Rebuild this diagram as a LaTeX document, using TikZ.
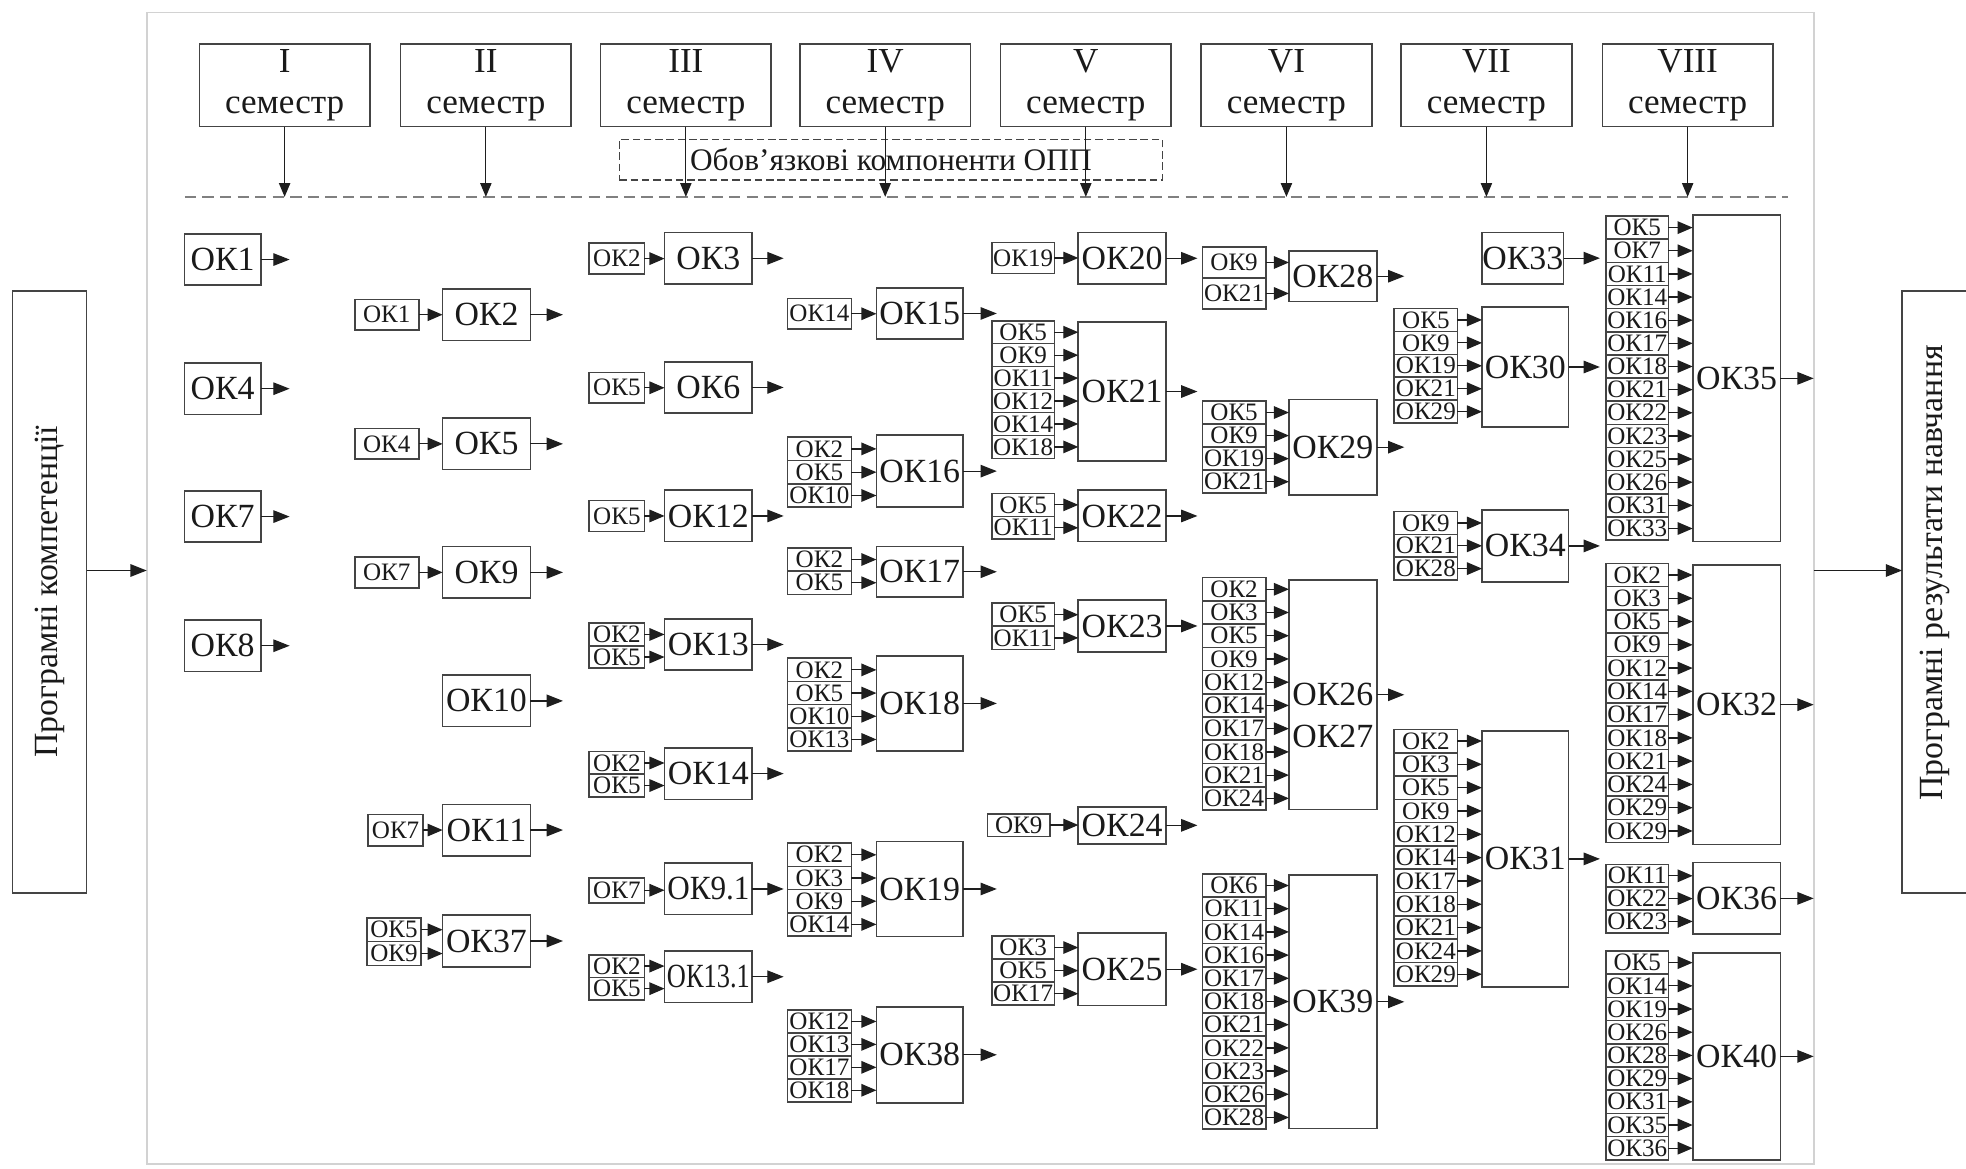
\documentclass[tikz,border=0pt]{standalone}
\usepackage{fontspec}
\usepackage{graphicx}
\setmainfont{Liberation Serif}
\usetikzlibrary{arrows.meta}
\definecolor{boxc}{HTML}{444444}
\definecolor{arrc}{HTML}{1E1E1E}
\definecolor{framec}{HTML}{D2D2D2}
\definecolor{dashc}{HTML}{808080}
\definecolor{txtc}{HTML}{1A1A1A}
\newcommand\mainfnt{\fontsize{27}{30}\selectfont}
\newcommand\smfnt{\fontsize{20}{22}\selectfont}
\newcommand\semfnt{\fontsize{28}{32}\selectfont}
\newcommand\sidefnt{\fontsize{27}{30}\selectfont}
\newcommand\oppfnt{\fontsize{25}{28}\selectfont}
% main box: name, xleft, width, ytop, height, text, end coordinate
\newcommand\okbox[7]{%
  \node[mainbox, minimum width=#3, minimum height=#5, anchor=north west] (#1) at (#2,#4) {#6};
  \draw[outarrow] (#1.east) -- (#1.east -| #7);}
% input stack: main name, xleft, width, ytop, row height, labels
\newcommand\stk[6]{%
  \foreach \lab [count=\i] in {#6} {%
    \node[inbox, minimum width=#3, minimum height=#5, anchor=north west] (#1-\i) at (#2,{#4+(\i-1)*#5}) {\lab};
    \draw[inarrow] (#1-\i.east) -- (#1-\i.east -| #1.west);
  }}
\tikzset{
  box/.style={draw=boxc, line width=1.3pt, inner sep=0pt, outer sep=0pt, text=txtc},
  mainbox/.style={box, font=\mainfnt},
  inbox/.style={box, font=\smfnt},
  lbl/.style={inner sep=0pt, text=txtc, font=\mainfnt},
  sembox/.style={box, font=\semfnt, align=center, minimum width=136, minimum height=66},
  sidebox/.style={box, font=\sidefnt},
  sidetxt/.style={inner sep=0pt, text=txtc, font=\sidefnt},
  oppbox/.style={draw=boxc, line width=1pt, dash pattern=on 6pt off 3pt, inner sep=0pt, text=txtc, font=\oppfnt},
  inarrow/.style={draw=arrc, line width=1pt, -{Triangle[length=12pt,width=10pt]}},
  outarrow/.style={draw=arrc, line width=1pt, -{Triangle[length=13pt,width=10pt]}},
  hdarrow/.style={draw=arrc, line width=1pt, -{Triangle[length=11pt,width=9pt]}},
  framestyle/.style={draw=framec, line width=1.5pt},
  dashline/.style={draw=dashc, line width=2pt, dash pattern=on 9pt off 5pt},
}
\begin{document}
\begin{tikzpicture}[x=1pt,y=-1pt]
\useasboundingbox (0,0) rectangle (1568,932);
\fill[white] (0,0) rectangle (1568,932);
% frame
\coordinate (fnw) at (117,10);
\coordinate (fse) at (1446.5,928);
\draw[framestyle] (fnw) rectangle (fse);
% side boxes
\node[sidebox, minimum width=59, minimum height=480] (lbox) at (39.5,472) {\rotatebox{90}{Програмні компетенції}};
\node[box, minimum width=70, minimum height=480, anchor=north west] (rbox) at (1517,232) {};
\node[sidetxt, rotate=90] (rtxt) at (1543,457) {Програмні результати навчання};
\coordinate (my) at (0,455);
\draw[outarrow] (lbox.east |- my) -- (fnw |- my);
\draw[outarrow] (fse |- my) -- (rbox.west |- my);
% header
\coordinate (dl) at (0,157);
\coordinate (dll) at (147.5,157);
\coordinate (dlr) at (1426,157);
\draw[dashline] (dll) -- (dlr);
\node[oppbox, minimum width=433, minimum height=32.5] (opp) at (710.5,127.25) {Обов’язкові компоненти ОПП};
\foreach \rn/\xc [count=\k] in {I/227,II/387.5,III/547,IV/706,V/866,VI/1026,VII/1185.5,VIII/1346} {
  \node[sembox] (sem\k) at (\xc,68) {\rn\\семестр};
  \draw[hdarrow] (sem\k.south) -- (sem\k.south |- dl);
}
% column I
\coordinate (eI) at (231,0);
\okbox{ok1}{147}{61}{186.5}{41}{ОК1}{eI}
\okbox{ok4}{147}{61}{289.5}{41}{ОК4}{eI}
\okbox{ok7}{147}{61}{391.5}{41}{ОК7}{eI}
\okbox{ok8}{147}{61}{494.5}{41}{ОК8}{eI}
% column II
\coordinate (eII) at (449,0);
\okbox{ok2}{353}{70}{230.5}{41}{ОК2}{eII}
\stk{ok2}{283}{51}{238.75}{24.5}{ОК1}
\okbox{ok5}{353}{70}{333.5}{41}{ОК5}{eII}
\stk{ok5}{283}{51}{341.75}{24.5}{ОК4}
\okbox{ok9}{353}{70}{436}{41}{ОК9}{eII}
\stk{ok9}{283}{51}{444.25}{24.5}{ОК7}
\okbox{ok10}{353}{70}{538.5}{41}{ОК10}{eII}
\okbox{ok11}{353}{70}{641.5}{41}{ОК11}{eII}
\stk{ok11}{293.5}{44}{649.5}{25}{ОК7}
\okbox{ok37}{353}{70}{730}{41}{ОК37}{eII}
\stk{ok37}{292.5}{43.5}{732}{19}{ОК5,ОК9}
% column III
\coordinate (eIII) at (625,0);
\okbox{ok3}{530}{70}{185.5}{41}{ОК3}{eIII}
\stk{ok3}{470}{44}{194}{24.5}{ОК2}
\okbox{ok6}{530}{70}{288.5}{41}{ОК6}{eIII}
\stk{ok6}{470}{44}{297}{24.5}{ОК5}
\okbox{ok12}{530}{70}{391}{41}{ОК12}{eIII}
\stk{ok12}{470}{44}{399.25}{24.5}{ОК5}
\okbox{ok13}{530}{70}{493.5}{41}{ОК13}{eIII}
\stk{ok13}{470}{44}{497}{18}{ОК2,ОК5}
\okbox{ok14}{530}{70}{596.5}{41}{ОК14}{eIII}
\stk{ok14}{470}{44}{599.5}{18}{ОК2,ОК5}
\okbox{ok91}{530}{70}{688.5}{41}{\scalebox{0.92}[1]{ОК9.1}}{eIII}
\stk{ok91}{470}{44}{700}{20}{ОК7}
\okbox{ok131}{530}{70}{758.5}{41}{\scalebox{0.78}[1]{ОК13.1}}{eIII}
\stk{ok131}{470}{44}{761.5}{18}{ОК2,ОК5}
% column IV
\coordinate (eIV) at (795,0);
\okbox{ok15}{699}{69}{229.5}{41}{ОК15}{eIV}
\stk{ok15}{628}{51}{238}{24.5}{ОК14}
\okbox{ok16}{699}{69}{347}{57.5}{ОК16}{eIV}
\stk{ok16}{628}{51}{348.7}{18.6}{ОК2,ОК5,ОК10}
\okbox{ok17}{699}{69}{436}{40}{ОК17}{eIV}
\stk{ok17}{628}{51}{437}{18.5}{ОК2,ОК5}
\okbox{ok18}{699}{69}{523}{76}{ОК18}{eIV}
\stk{ok18}{628}{51}{525}{18.5}{ОК2,ОК5,ОК10,ОК13}
\okbox{ok19}{699}{69}{671}{76}{ОК19}{eIV}
\stk{ok19}{628}{51}{672.5}{18.5}{ОК2,ОК3,ОК9,ОК14}
\okbox{ok38}{699}{69}{803}{76.5}{ОК38}{eIV}
\stk{ok38}{628}{51}{805.5}{18.3}{ОК12,ОК13,ОК17,ОК18}
% column V
\coordinate (eV) at (955,0);
\okbox{ok20}{860}{70}{185.5}{41}{ОК20}{eV}
\stk{ok20}{791}{50}{193.5}{24.5}{ОК19}
\okbox{ok21}{860}{70}{257}{110.5}{ОК21}{eV}
\stk{ok21}{791}{50}{255.8}{18.3}{ОК5,ОК9,ОК11,ОК12,ОК14,ОК18}
\okbox{ok22}{860}{70}{391}{41}{ОК22}{eV}
\stk{ok22}{791}{50}{393.5}{18.3}{ОК5,ОК11}
\okbox{ok23}{860}{70}{478.5}{41.5}{ОК23}{eV}
\stk{ok23}{791}{50}{481}{18.5}{ОК5,ОК11}
\okbox{ok24}{860}{70}{643.5}{29.5}{ОК24}{eV}
\stk{ok24}{787.5}{50}{649}{18}{ОК9}
\okbox{ok25}{860}{70}{744}{58}{ОК25}{eV}
\stk{ok25}{791}{50}{746.5}{18.4}{ОК3,ОК5,ОК17}
% column VI
\coordinate (eVI) at (1120,0);
\okbox{ok28}{1028}{70}{200}{40.6}{ОК28}{eVI}
\stk{ok28}{959}{50.5}{197}{24.7}{ОК9,ОК21}
\okbox{ok29}{1028}{70}{318.5}{76.3}{ОК29}{eVI}
\stk{ok29}{959}{50.5}{319.8}{18.4}{ОК5,ОК9,ОК19,ОК21}
\okbox{ok26}{1028}{70}{462.6}{183}{ОК26}{eVI}
\node[lbl] (ok27) at (1063,587) {ОК27};
\stk{ok26}{959}{50.5}{460.7}{18.53}{ОК2,ОК3,ОК5,ОК9,ОК12,ОК14,ОК17,ОК18,ОК21,ОК24}
\okbox{ok39}{1028}{70}{698}{202}{ОК39}{eVI}
\stk{ok39}{959}{50.5}{697}{18.5}{ОК6,ОК11,ОК14,ОК16,ОК17,ОК18,ОК21,ОК22,ОК23,ОК26,ОК28}
% column VII
\coordinate (eVII) at (1276,0);
\okbox{ok33}{1182}{65}{185.3}{41.2}{ОК33}{eVII}
\okbox{ok30}{1182}{69}{244.6}{96.2}{ОК30}{eVII}
\stk{ok30}{1112}{50.4}{246}{18.3}{ОК5,ОК9,ОК19,ОК21,ОК29}
\okbox{ok34}{1182}{69}{406.8}{57.2}{ОК34}{eVII}
\stk{ok34}{1112}{50.4}{408}{18.2}{ОК9,ОК21,ОК28}
\okbox{ok31}{1182}{69}{583}{204}{ОК31}{eVII}
\stk{ok31}{1112}{50.4}{581.7}{18.6}{ОК2,ОК3,ОК5,ОК9,ОК12,ОК14,ОК17,ОК18,ОК21,ОК24,ОК29}
% column VIII
\coordinate (eVIII) at (1446.5,0);
\okbox{ok35}{1350}{70}{171.5}{260.5}{ОК35}{eVIII}
\stk{ok35}{1281}{49.6}{172.3}{18.46}{ОК5,ОК7,ОК11,ОК14,ОК16,ОК17,ОК18,ОК21,ОК22,ОК23,ОК25,ОК26,ОК31,ОК33}
\okbox{ok32}{1350}{70}{450.6}{222.8}{ОК32}{eVIII}
\stk{ok32}{1281}{49.6}{449.3}{18.56}{ОК2,ОК3,ОК5,ОК9,ОК12,ОК14,ОК17,ОК18,ОК21,ОК24,ОК29,ОК29}
\okbox{ok36}{1350}{70}{688}{57}{ОК36}{eVIII}
\stk{ok36}{1281}{49.6}{689.4}{18.2}{ОК11,ОК22,ОК23}
\okbox{ok40}{1350}{70}{760}{165}{ОК40}{eVIII}
\stk{ok40}{1281}{49.6}{758.5}{18.5}{ОК5,ОК14,ОК19,ОК26,ОК28,ОК29,ОК31,ОК35,ОК36}
\end{tikzpicture}
\end{document}
